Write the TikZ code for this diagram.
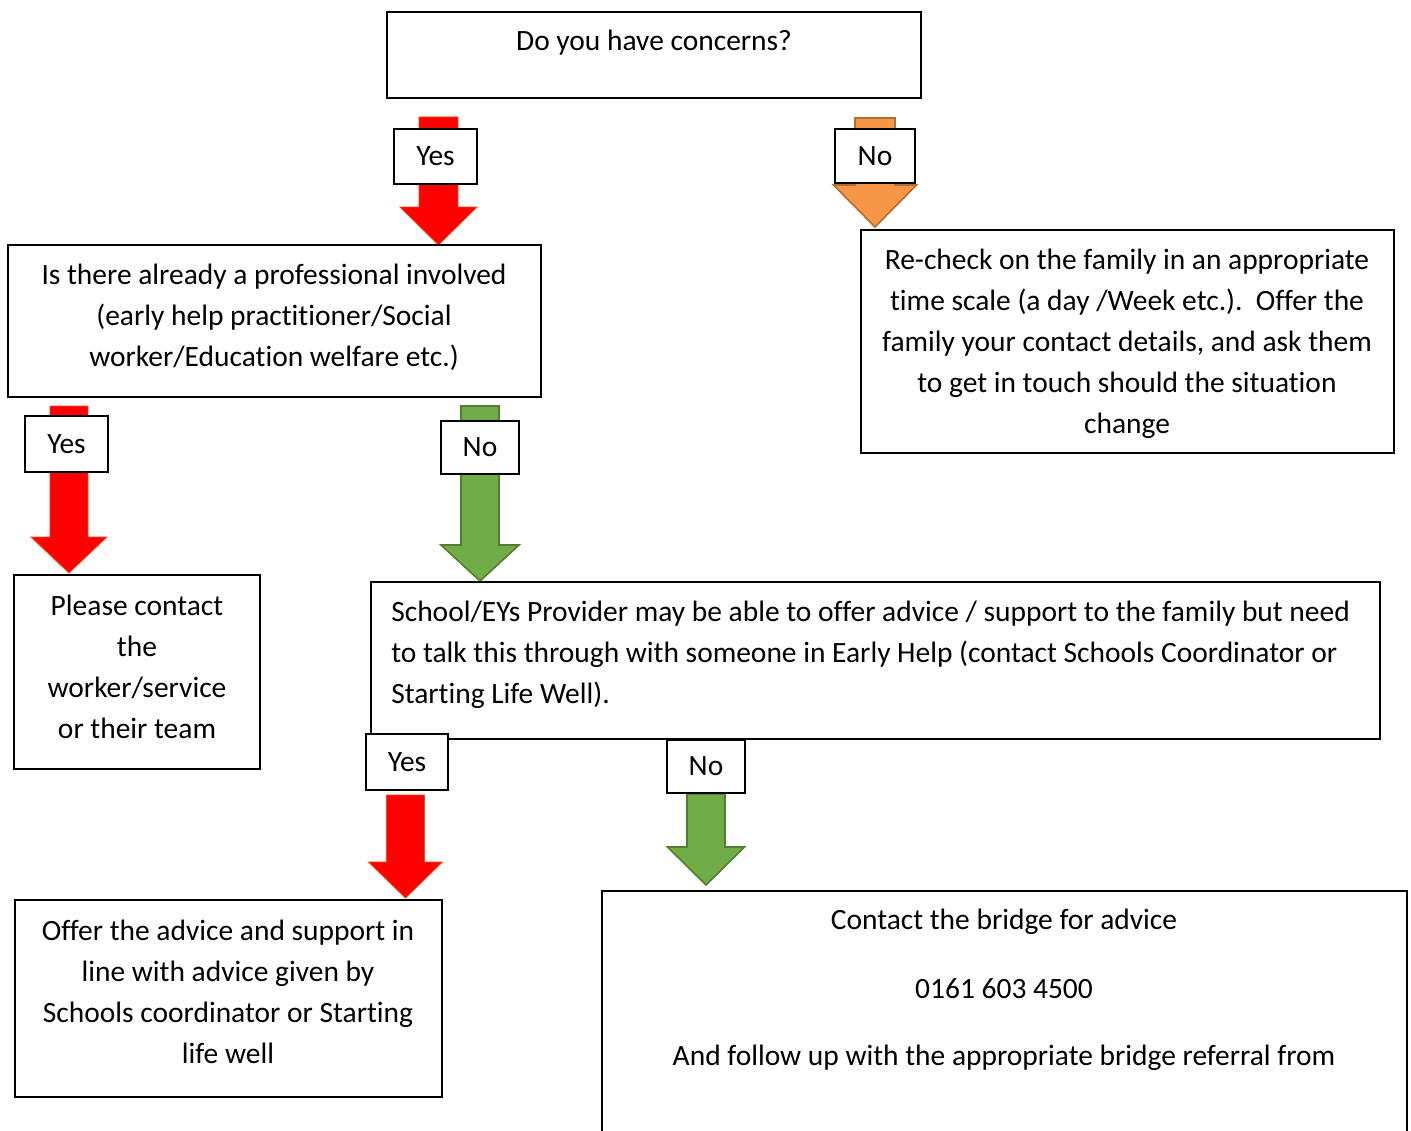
\documentclass[tikz,border=0pt]{standalone}
\usepackage{fontspec}
\setmainfont[Ligatures=NoCommon]{Carlito}
\definecolor{arrred}{HTML}{FF0000}
\definecolor{arrredline}{HTML}{F04A10}
\definecolor{arrorange}{HTML}{F79646}
\definecolor{arrorangeline}{HTML}{B66D31}
\definecolor{arrgreen}{HTML}{70AD47}
\definecolor{arrgreenline}{HTML}{507E32}
\newcommand\blockarrow[7]{%
  \draw[#1] (#2-#6,#3) -- (#2+#6,#3) -- (#2+#6,#4) -- (#2+#7,#4) -- (#2,#5) -- (#2-#7,#4) -- (#2-#6,#4) -- cycle;}
\tikzset{
  txt/.style={font=\fontsize{22.1}{30.75}\selectfont, inner sep=0pt, align=center},
  boxr/.style={draw=black, line width=1pt},
  lbl/.style={draw=black, line width=1pt, fill=white, inner sep=0pt, font=\fontsize{22.1}{25}\selectfont},
  redarr/.style={fill=arrred, draw=arrredline, line width=0.6pt},
  orangearr/.style={fill=arrorange, draw=arrorangeline, line width=1.2pt},
  greenarr/.style={fill=arrgreen, draw=arrgreenline, line width=1.2pt}
}
\begin{document}
\begin{tikzpicture}[x=0.75pt,y=-0.75pt]
\clip (0,0) rectangle (1411,1131);
\fill[white] (0,0) rectangle (1411,1131);
% arrows
\blockarrow{redarr}{438.5}{117}{207}{245}{19.5}{38.5}
\blockarrow{orangearr}{875}{118}{185}{227}{20}{41.5}
\blockarrow{redarr}{69}{406}{537}{573}{19}{38}
\blockarrow{greenarr}{480}{406}{545}{581}{19}{39}
\blockarrow{redarr}{405.5}{795}{862}{898}{19}{37}
\blockarrow{greenarr}{706}{794}{847}{885}{19}{38.5}
% boxes
\draw[boxr] (387,12) rectangle (921,98);
\node[txt] (t1) at (654,43) {Do you have concerns?};
\draw[boxr] (8,245) rectangle (541,397);
\node[txt] (t2) at (274,317.5) {Is there already a professional involved\\(early help practitioner/Social\\worker/Education welfare etc.)};
\draw[boxr] (861,230) rectangle (1394,453);
\node[txt] (t3) at (1127,343.5) {Re-check on the family in an appropriate\\time scale (a day /Week etc.).\ \ Offer the\\family your contact details, and ask them\\to get in touch should the situation\\change};
\draw[boxr] (14,575) rectangle (260,769);
\node[txt] (t4) at (137,667) {Please contact\\the\\worker/service\\or their team};
\draw[boxr] (371,582) rectangle (1380,739);
\node[txt, align=left, anchor=west] (t5) at (391,654.5) {School/EYs Provider may be able to offer advice / support to the family but need\\to talk this through with someone in Early Help (contact Schools Coordinator or\\Starting Life Well).};
\draw[boxr] (15,900) rectangle (442,1097);
\node[txt] (t6) at (228,992) {Offer the advice and support in\\line with advice given by\\Schools coordinator or Starting\\life well};
\draw[boxr] (602,891) rectangle (1407,1160);
\node[txt] (t7a) at (1004,921.5) {Contact the bridge for advice};
\node[txt] (t7b) at (1004,989) {0161 603 4500};
\node[txt] (t7c) at (1004,1057.5) {And follow up with the appropriate bridge referral from};
% labels
\node[lbl, minimum width=83*0.75pt, minimum height=55*0.75pt] (l1) at (435.5,156.5) {Yes};
\node[lbl, minimum width=80*0.75pt, minimum height=54*0.75pt] (l2) at (875,156) {No};
\node[lbl, minimum width=83*0.75pt, minimum height=56*0.75pt] (l3) at (66.5,444) {Yes};
\node[lbl, minimum width=78*0.75pt, minimum height=53*0.75pt] (l4) at (480,447.5) {No};
\node[lbl, minimum width=82*0.75pt, minimum height=56*0.75pt] (l5) at (407,762) {Yes};
\node[lbl, minimum width=78*0.75pt, minimum height=53*0.75pt] (l6) at (706,766.5) {No};
\end{tikzpicture}
\end{document}
